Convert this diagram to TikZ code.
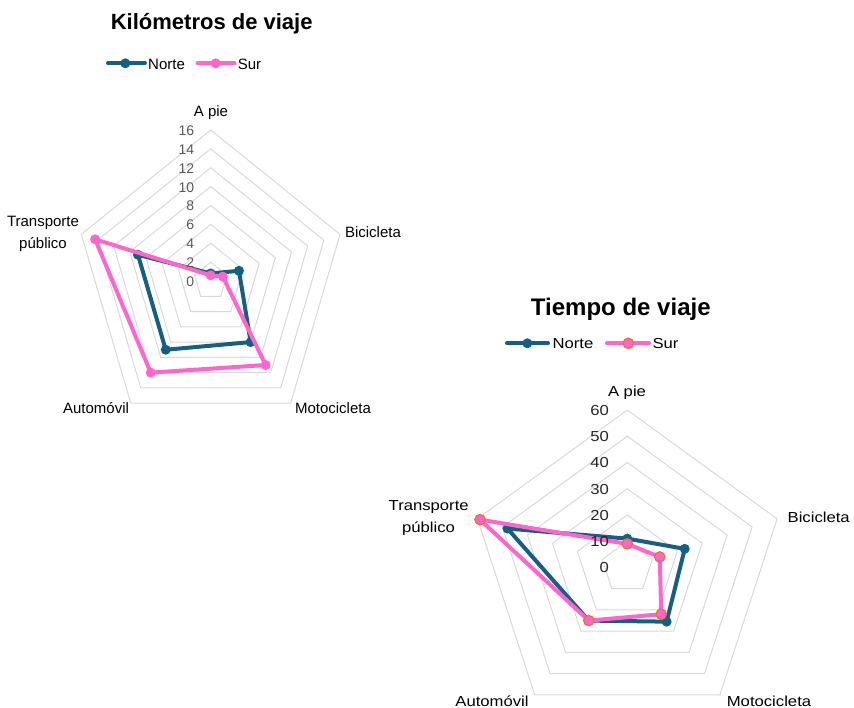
\documentclass[tikz,border=0pt]{standalone}
\usepackage{fontspec}
\setmainfont{Liberation Sans}
\newfontfamily\widefont[FakeStretch=1.15]{Liberation Sans}
\definecolor{norteblue}{HTML}{156082}
\definecolor{surpink}{HTML}{FF66CC}
\definecolor{surorange}{HTML}{E97132}
\definecolor{ringgray}{HTML}{D9D9D9}
\definecolor{tickgray}{HTML}{595959}

\begin{document}
\begin{tikzpicture}[x=1pt,y=1pt,
  ring/.style={draw=ringgray,line width=1pt,line join=round},
  norteline/.style={draw=norteblue,line width=4pt,line join=round},
  surline/.style={draw=surpink,line width=4pt,line join=round},
  txt/.style={inner sep=0pt,anchor=base},
  catone/.style={txt,font=\fontsize{15}{18}\selectfont},
  cattwo/.style={txt,font=\widefont\fontsize{14.5}{17}\selectfont},
  tickone/.style={inner sep=0pt,anchor=east,text=tickgray,font=\fontsize{14}{16}\selectfont},
  ticktwo/.style={inner sep=0pt,anchor=east,text=black!85,font=\widefont\fontsize{14.5}{17}\selectfont}]
\useasboundingbox (0,0) rectangle (854,-708);

% First chart: Kilometros de viaje
\node[txt,font=\bfseries\fontsize{22}{26}\selectfont] (titleone) at (211.7,-30) {Kilómetros de viaje};
\draw[norteblue,line width=4pt,line cap=round] (108,-63.3) -- (145,-63.3);
\fill[norteblue] (125.3,-63.3) circle (5pt);
\node[catone,anchor=base west] (legnorteone) at (148,-69.3) {Norte};
\draw[surpink,line width=4pt,line cap=round] (197.5,-63.3) -- (234.5,-63.3);
\fill[surpink] (215.7,-63.3) circle (5pt);
\node[catone,anchor=base west] (legsurone) at (237.7,-69.3) {Sur};

\begin{scope}[shift={(210.7pt,-281pt)},x=8.5pt,y=9.44pt]
  \foreach \r in {2,4,...,16}
    \draw[ring] (90:\r) -- (18:\r) -- (-54:\r) -- (-126:\r) -- (162:\r) -- cycle;
  \draw[norteline] (90:0.8) -- (18:3.5) -- (-54:8) -- (-126:9) -- (162:9) -- cycle;
  \foreach \a/\v in {90/0.8,18/3.5,-54/8,-126/9,162/9}
    \fill[norteblue] (\a:\v) circle (5pt);
  \draw[surline] (90:0.6) -- (18:1.5) -- (-54:11) -- (-126:12) -- (162:14.3) -- cycle;
  \foreach \a/\v in {90/0.6,18/1.5,-54/11,-126/12,162/14.3}
    \fill[surpink] (\a:\v) circle (5pt);
\end{scope}

\foreach \v in {0,2,...,16}
  \node[tickone] (tickone\v) at (194.3,{-281.7+\v*9.44}) {\v};
\node[catone] (apieone) at (211,-116.7) {A pie};
\node[catone] (bicione) at (373,-237.7) {Bicicleta};
\node[catone] (motoone) at (333,-413.3) {Motocicleta};
\node[catone] (autoone) at (96,-413.3) {Automóvil};
\node[catone] (transone) at (43,-226.7) {Transporte};
\node[catone] (pubone) at (43,-248.3) {público};

% Second chart: Tiempo de viaje
\node[txt,font=\bfseries\fontsize{24}{28}\selectfont] (titletwo) at (620.8,-316) {Tiempo de viaje};
\draw[norteblue,line width=4pt,line cap=round] (507,-343.3) -- (548,-343.3);
\fill[norteblue] (527.3,-343.3) circle (5pt);
\node[cattwo,anchor=base west] (legnortetwo) at (552.3,-348.3) {Norte};
\draw[surpink,line width=4pt,line cap=round] (607,-343.3) -- (649,-343.3);
\filldraw[fill=surpink,draw=surorange,line width=1.2pt] (628.3,-343.3) circle (5.2pt);
\node[cattwo,anchor=base west] (legsurtwo) at (652.3,-348.3) {Sur};

\begin{scope}[shift={(627.3pt,-567.5pt)},x=2.625pt,y=2.625pt]
  \foreach \r in {10,20,...,60}
    \draw[ring] (90:\r) -- (18:\r) -- (-54:\r) -- (-126:\r) -- (162:\r) -- cycle;
  \draw[norteline] (90:11) -- (18:23) -- (-54:25.5) -- (-126:25) -- (162:48) -- cycle;
  \foreach \a/\v in {90/11,18/23,-54/25.5,-126/25,162/48}
    \fill[norteblue] (\a:\v) circle (5pt);
  \draw[surline] (90:9) -- (18:13) -- (-54:22) -- (-126:25) -- (162:59) -- cycle;
  \foreach \a/\v in {90/9,18/13,-54/22,-126/25,162/59}
    \filldraw[fill=surpink,draw=surorange,line width=1.2pt] (\a:\v) circle (5.2pt);
\end{scope}

\foreach \v in {0,10,...,60}
  \node[ticktwo] (ticktwo\v) at (609,{-568+\v*2.625}) {\v};
\node[cattwo] (apietwo) at (627,-396) {A pie};
\node[cattwo] (bicitwo) at (818.7,-522.3) {Bicicleta};
\node[cattwo] (mototwo) at (769,-706) {Motocicleta};
\node[cattwo] (autotwo) at (492,-706) {Automóvil};
\node[cattwo] (transtwo) at (428.7,-510.7) {Transporte};
\node[cattwo] (pubtwo) at (428.5,-532.5) {público};
\end{tikzpicture}
\end{document}
